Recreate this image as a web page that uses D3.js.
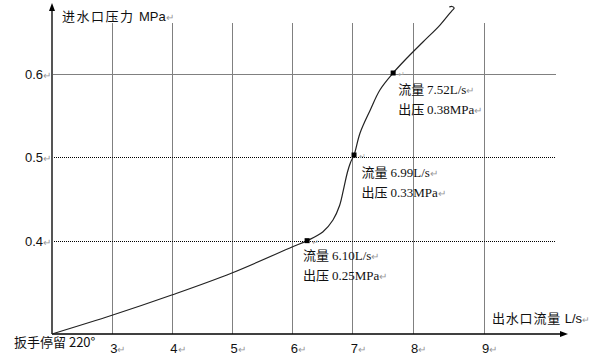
<!DOCTYPE html>
<html><head><meta charset="utf-8">
<script src="https://cdn.jsdelivr.net/npm/d3@7"></script>
<style>
html,body{margin:0;padding:0;background:#fff;}
svg{display:block;}
</style></head>
<body>
<svg id="chart" width="590" height="357"></svg>
<script>
// ---- data ----
const xTicks = [3, 4, 5, 6, 7, 8, 9];
const yTicks = [0.4, 0.5, 0.6];
const xOrigin = 2;
const yOrigin = 0.2877;
const curveX = [2.00, 3.01, 3.99, 4.99, 5.99, 6.24, 6.50, 6.67, 6.78, 6.85, 6.91, 6.96, 7.02, 7.12, 7.29, 7.45, 7.67, 7.90, 8.14, 8.38, 8.52, 8.56, 8.58, 8.55, 8.51];
const curveY = [0.2877, 0.3105, 0.3345, 0.361, 0.3922, 0.3998, 0.4102, 0.4246, 0.4420, 0.4630, 0.4820, 0.4935, 0.5027, 0.5291, 0.5568, 0.5808, 0.6012, 0.6192, 0.6384, 0.6588, 0.6732, 0.6769, 0.6793, 0.6811, 0.6805];
const markerX = [6.24, 7.02, 7.67];
const markerY = [0.3998, 0.5027, 0.6012];
const flowLabels = ["6.10L/s", "6.99L/s", "7.52L/s"];
const pressureLabels = ["0.25MPa", "0.33MPa", "0.38MPa"];
const yTitle = "进水口压力";
const yUnit = "MPa";
const xTitle = "出水口流量";
const xUnit = "L/s";
const originLabel = "扳手停留 220°";
const RET = "↵";

// ---- layout ----
const labelOffsets = [[-4, 19.5], [7.5, 22], [5, 20.5]];
const lineGap = 20;
const gridTop = 23, gridRight = 556, axisXEnd = 568, axisYTop = 3;

const svg = d3.select("#chart");
const x = d3.scaleLinear().domain([2, 8, 9]).range([52, 413, 484]);
const y = d3.scaleLinear().domain([0.4, 0.6]).range([240.5, 74]);
const X0 = x(xOrigin), Y0 = y(yOrigin);

const CJK = "'Noto Sans CJK SC', sans-serif";
const SANS = "'Liberation Sans', Arial, sans-serif";
const SERIF = "'Liberation Serif', serif";

// vertical grid
svg.append("g").selectAll("line").data(xTicks).join("line")
  .attr("x1", d => x(d)).attr("x2", d => x(d))
  .attr("y1", gridTop).attr("y2", Y0)
  .attr("stroke", "#808080").attr("stroke-width", 1).attr("shape-rendering", "crispEdges");

// horizontal grid
svg.append("g").selectAll("line").data(yTicks).join("line")
  .attr("x1", X0).attr("x2", gridRight)
  .attr("y1", d => Math.round(y(d)) + 0.5).attr("y2", d => Math.round(y(d)) + 0.5)
  .attr("stroke", d => d === 0.6 ? "#808080" : "#000")
  .attr("stroke-dasharray", d => d === 0.6 ? null : "1,1")
  .attr("stroke-width", 1);

// axes
svg.append("line").attr("x1", X0).attr("x2", X0).attr("y1", Y0).attr("y2", axisYTop + 6)
  .attr("stroke", "#555").attr("stroke-width", 2);
svg.append("path").attr("d", `M${X0},${axisYTop} L${X0 - 3},${axisYTop + 8} L${X0 + 3},${axisYTop + 8} Z`).attr("fill", "#000");
svg.append("line").attr("x1", X0).attr("x2", axisXEnd - 6).attr("y1", Y0).attr("y2", Y0)
  .attr("stroke", "#000").attr("stroke-width", 1.5);
svg.append("path").attr("d", `M${axisXEnd},${Y0} L${axisXEnd - 8},${Y0 - 3} L${axisXEnd - 8},${Y0 + 3} Z`).attr("fill", "#000");

// curve
const pts = curveX.map((d, i) => [x(d), y(curveY[i])]);
svg.append("path").datum(pts)
  .attr("d", d3.line().curve(d3.curveCatmullRom.alpha(0.5)))
  .attr("fill", "none").attr("stroke", "#222").attr("stroke-width", 1.2);

// markers
svg.append("g").selectAll("rect").data(markerX).join("rect")
  .attr("x", (d) => x(d) - 2.5).attr("y", (d, i) => y(markerY[i]) - 2.5)
  .attr("width", 5).attr("height", 5).attr("fill", "#000");
svg.append("g").selectAll("text").data(markerX).join("text")
  .attr("x", d => x(d) + 5).attr("y", (d, i) => y(markerY[i]) + 4)
  .attr("font-family", SANS).attr("font-size", 8).attr("fill", "#aaa").text(RET);

// annotations
markerX.forEach((d, i) => {
  const tx = x(d) + labelOffsets[i][0];
  const ty = y(markerY[i]) + labelOffsets[i][1];
  [["流量", flowLabels[i]], ["出压", pressureLabels[i]]].forEach((pair, j) => {
    const t = svg.append("text").attr("x", tx).attr("y", ty + j * lineGap).attr("font-size", 13);
    t.append("tspan").attr("font-family", CJK).attr("fill", "#111").text(pair[0] + " ");
    t.append("tspan").attr("font-family", SERIF).attr("fill", "#111").text(pair[1]);
    t.append("tspan").attr("font-family", SANS).attr("font-size", 10).attr("fill", "#999").text(RET);
  });
});

// y tick labels
svg.append("g").selectAll("text").data(yTicks).join("text")
  .attr("x", X0 - 9).attr("y", d => y(d) + 5)
  .attr("text-anchor", "end").attr("font-family", SANS).attr("font-size", 13).attr("fill", "#111")
  .text(d => d3.format(".1f")(d));
svg.append("g").selectAll("text").data(yTicks).join("text")
  .attr("x", X0 - 9).attr("y", d => y(d) + 5)
  .attr("font-family", SANS).attr("font-size", 10).attr("fill", "#999").text(RET);

// x tick labels
const xt = svg.append("g").selectAll("text").data(xTicks).join("text")
  .attr("x", d => x(d) - 2).attr("y", Y0 + 19)
  .attr("font-family", SANS).attr("font-size", 13).attr("fill", "#111");
xt.append("tspan").text(d => d);
xt.append("tspan").attr("font-size", 10).attr("fill", "#999").text(RET);

// y title
const yt = svg.append("text").attr("x", 62).attr("y", 21).attr("font-size", 13).attr("fill", "#111");
yt.append("tspan").attr("font-family", CJK).attr("letter-spacing", 1.5).text(yTitle + " ");
yt.append("tspan").attr("font-family", SANS).text(yUnit);
yt.append("tspan").attr("font-family", SANS).attr("font-size", 10).attr("fill", "#999").text(RET);

// x title
const xtt = svg.append("text").attr("x", 492).attr("y", 323).attr("font-size", 13).attr("fill", "#111");
xtt.append("tspan").attr("font-family", CJK).attr("letter-spacing", 0.8).text(xTitle + " ");
xtt.append("tspan").attr("font-family", SANS).text(xUnit);
xtt.append("tspan").attr("font-family", SANS).attr("font-size", 9).attr("fill", "#999").text(RET);

// origin label
svg.append("text").attr("x", 14).attr("y", 347).attr("font-size", 13).attr("fill", "#111")
  .attr("font-family", CJK).text(originLabel);
</script>
</body></html>
